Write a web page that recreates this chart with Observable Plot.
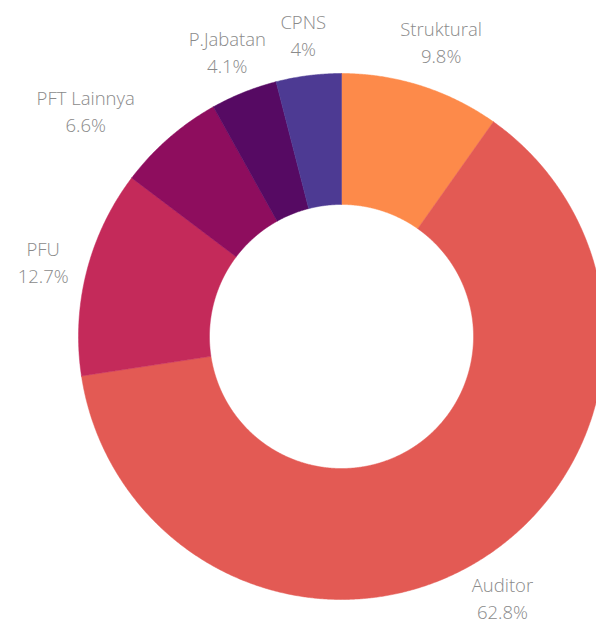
<!DOCTYPE html>
<html>
<head>
<meta charset="utf-8">
<script src="https://cdn.jsdelivr.net/npm/d3@7"></script>
<script src="https://cdn.jsdelivr.net/npm/@observablehq/plot@0.6"></script>
<style>
  html, body { margin: 0; padding: 0; background: #fff; }
  #chart { width: 596px; height: 627px; }
</style>
</head>
<body>
<div id="chart"></div>
<script>
// ---- data ----
const categories = ["Struktural", "Auditor", "PFU", "PFT Lainnya", "P.Jabatan", "CPNS"];
const values = [9.8, 62.8, 12.7, 6.6, 4.1, 4];
const colors = ["#fd8a4a", "#e35a54", "#c42a5a", "#8e0d5e", "#560a63", "#4d3a93"];

// ---- layout ----
const W = 596, H = 627;
const cx = 341, cy = 336, R = 263;   // pixel centre and outer radius
const innerRatio = 0.502;
// label collision nudges (degrees of angle, radius factor), by category index
const labelAngleShift = [1, 0, 0, -7.4, 0, 0];
const labelRadiusFix = [1.185, 1.165, 1.17, 1.30, 1.17, 1.16];

const pie = d3.pie().sort(null).value(d => d)(values);

// build slice polygons in unit-radius coordinates (angle 0 at top, clockwise)
const pts = [];
pie.forEach((p, i) => {
  const n = Math.max(8, Math.ceil((p.endAngle - p.startAngle) / 0.005));
  const ring = [];
  for (let k = 0; k <= n; k++) {
    const a = p.startAngle + (p.endAngle - p.startAngle) * k / n;
    ring.push([Math.sin(a), Math.cos(a)]);
  }
  for (let k = n; k >= 0; k--) {
    const a = p.startAngle + (p.endAngle - p.startAngle) * k / n;
    ring.push([innerRatio * Math.sin(a), innerRatio * Math.cos(a)]);
  }
  ring.push(ring[0]);
  ring.forEach(([x, y]) => pts.push({cat: categories[i], x, y}));
});

const labels = pie.map((p, i) => {
  const a = (p.startAngle + p.endAngle) / 2 + labelAngleShift[i] * Math.PI / 180;
  const r = labelRadiusFix[i];
  return {
    cat: categories[i],
    x: r * Math.sin(a),
    y: r * Math.cos(a),
    text: categories[i] + "\n" + values[i] + "%"
  };
});

const chart = Plot.plot({
  width: W,
  height: H,
  margin: 0,
  style: {background: "#fff", fontFamily: "'Open Sans', sans-serif"},
  x: {domain: [-cx / R, (W - cx) / R], axis: null},
  y: {domain: [-(H - cy) / R, cy / R], axis: null},
  color: {domain: categories, range: colors},
  marks: [
    Plot.line(pts, {x: "x", y: "y", z: "cat", fill: "cat", stroke: "cat", strokeWidth: 0.5, curve: "linear"}),
    Plot.text(labels, {
      x: "x", y: "y", text: "text",
      fill: "#8a8a8a", fontSize: 18.5, fontWeight: 300,
      lineHeight: 1.45, textAnchor: "middle", lineAnchor: "middle"
    })
  ]
});
document.getElementById("chart").appendChild(chart);
</script>
</body>
</html>
